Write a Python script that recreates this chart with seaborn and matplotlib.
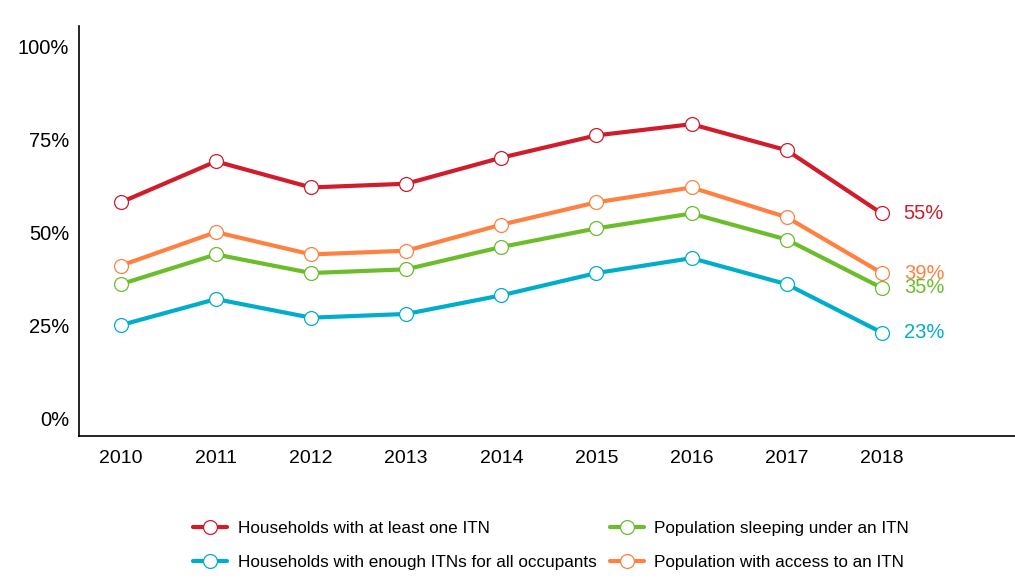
import numpy as np
import pandas as pd
import matplotlib
matplotlib.use("Agg")
import matplotlib.pyplot as plt
import seaborn as sns
from matplotlib.lines import Line2D

years = [2010, 2011, 2012, 2013, 2014, 2015, 2016, 2017, 2018]
hh_one_itn = [58, 69, 62, 63, 70, 76, 79, 72, 55]
pop_access = [41, 50, 44, 45, 52, 58, 62, 54, 39]
pop_sleeping = [36, 44, 39, 40, 46, 51, 55, 48, 35]
hh_enough = [25, 32, 27, 28, 33, 39, 43, 36, 23]

series_names = [
    "Households with at least one ITN",
    "Households with enough ITNs for all occupants",
    "Population sleeping under an ITN",
    "Population with access to an ITN",
]
series_values = [hh_one_itn, hh_enough, pop_sleeping, pop_access]
colors = ["#D01C2B", "#00AECB", "#6CBD2B", "#FF8142"]
end_labels = ["55%", "23%", "35%", "39%"]

sns.set_theme(style="white")
plt.rcParams["font.family"] = ["Liberation Sans", "DejaVu Sans"]
plt.rcParams["text.color"] = "black"
plt.rcParams["xtick.color"] = "black"
plt.rcParams["ytick.color"] = "black"

rows = []
for name, vals in zip(series_names, series_values):
    for y, v in zip(years, vals):
        rows.append({"Year": y, "Value": v, "Series": name})
df = pd.DataFrame(rows)

fig = plt.figure(figsize=(10.15, 5.85), dpi=100)
ax = fig.add_axes([0.0778, 0.2547, 0.9222, 0.7009])

palette = dict(zip(series_names, colors))
sns.lineplot(data=df, x="Year", y="Value", hue="Series", hue_order=series_names,
             palette=palette, linewidth=3.0, marker="o", markersize=10,
             markerfacecolor="white", markeredgewidth=0.9, ax=ax, legend=False)
for line, c in zip(ax.get_lines(), colors):
    line.set_markeredgecolor(c)

for vals, c, lab in zip(series_values, colors, end_labels):
    ax.text(years[-1] + 0.23, vals[-1], lab, color=c, fontsize=14.5,
            va="center", ha="left")

ax.set_xlim(2009.56, 2019.4)
ax.set_ylim(-4.8, 105.4)
ax.set_xticks(years)
ax.set_xticklabels([str(y) for y in years], fontsize=14)
ax.set_yticks([0, 25, 50, 75, 100])
ax.set_yticklabels(["0%", "25%", "50%", "75%", "100%"], fontsize=14.5)
ax.set_xlabel("")
ax.set_ylabel("")
for s in ["top", "right"]:
    ax.spines[s].set_visible(False)
for s in ["left", "bottom"]:
    ax.spines[s].set_color("black")
    ax.spines[s].set_linewidth(1.2)
ax.tick_params(axis="y", length=0, pad=7)
ax.tick_params(axis="x", length=0, pad=10)

handles = [Line2D([0], [0], color=c, linewidth=3.0, marker="o", markersize=10,
                  markerfacecolor="white", markeredgecolor=c, markeredgewidth=0.9)
           for c in colors]
fig.legend(handles, series_names, loc="center", bbox_to_anchor=(0.543, 0.0675),
           ncol=2, frameon=False, fontsize=12.3, handlelength=2.0,
           columnspacing=0.8, labelspacing=1.1, handletextpad=0.6)

fig.savefig("out.png", dpi=100)
